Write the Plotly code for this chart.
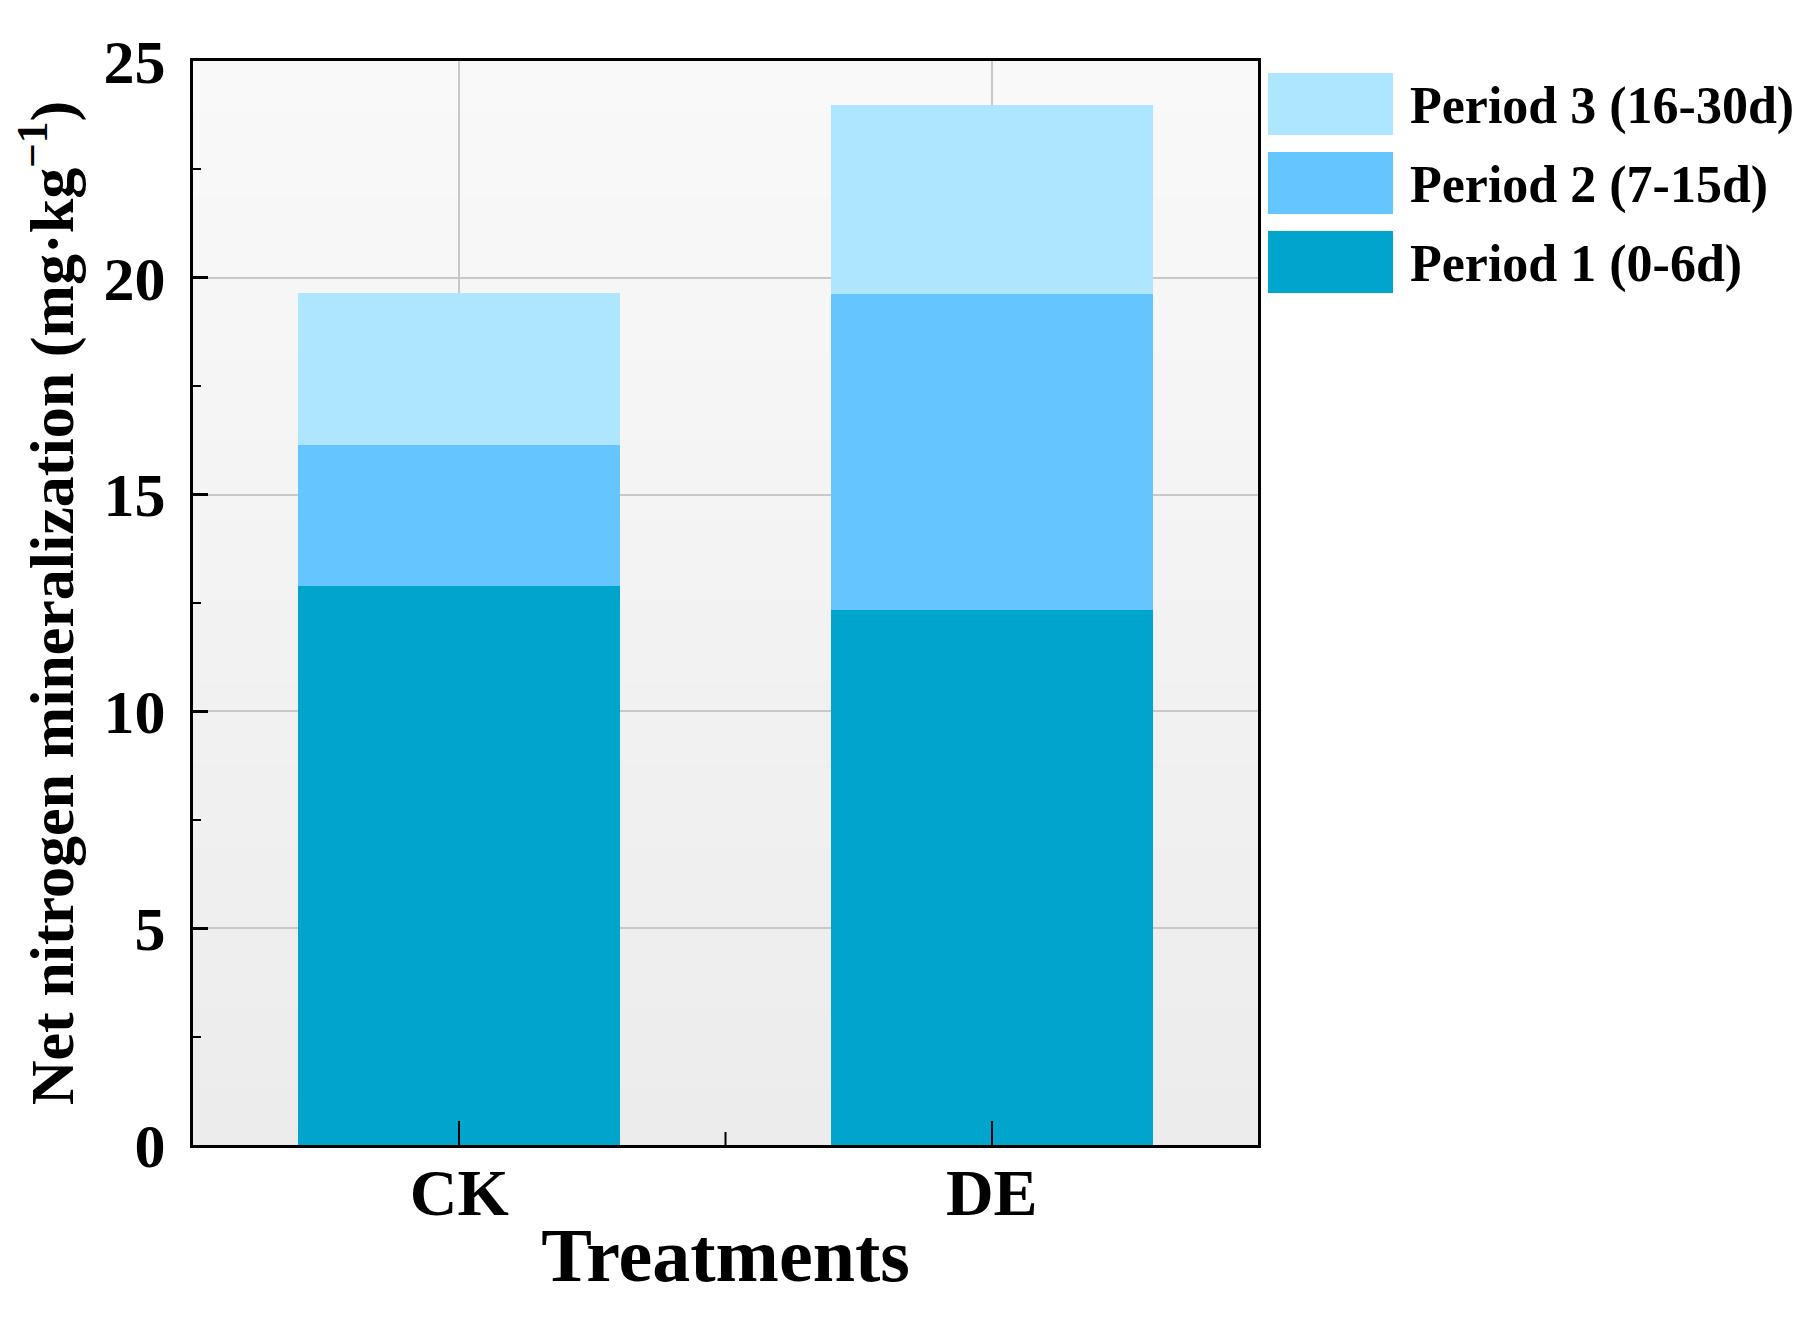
import plotly.graph_objects as go

categories = ["CK", "DE"]
period1 = [12.9, 12.35]
period2 = [3.25, 7.27]
period3 = [3.5, 4.36]
series_names = ["Period 1 (0-6d)", "Period 2 (7-15d)", "Period 3 (16-30d)"]
series_colors = ["#00A5CD", "#64C5FF", "#AEE6FF"]
y_ticks = [0, 5, 10, 15, 20, 25]

W, H = 1817, 1322
L, R, T, B = 185, 1250, 53, 1137
FONT = "Liberation Serif"


def px_x(px):
    return (px - L) / (R - L)


def px_y(py):
    return (B - py) / (B - T)


fig = go.Figure()
for name, vals, col in zip(series_names, [period1, period2, period3], series_colors):
    fig.add_trace(go.Bar(x=categories, y=vals, name=name, marker=dict(color=col, line=dict(width=0)),
                         width=0.605, showlegend=False))

shapes = []
# background gradient (decorative), drawn below gridlines
n = 40
top = (249, 249, 249)
bot = (236, 236, 236)
for i in range(n):
    t = (i + 0.5) / n
    c = tuple(int(round(top[k] + (bot[k] - top[k]) * t)) for k in range(3))
    shapes.append(dict(type="rect", xref="x domain", yref="y domain", x0=0, x1=1,
                       y0=1 - (i + 1) / n, y1=1 - i / n + 0.001, layer="below",
                       line=dict(width=0), fillcolor="rgb(%d,%d,%d)" % c))
# minor x tick between categories
shapes.append(dict(type="line", xref="x", yref="y domain", x0=0.5, x1=0.5, y0=0, y1=0.012,
                   line=dict(color="black", width=2), layer="above"))

# custom legend
legend_items = [(series_names[2], series_colors[2], 65),
                (series_names[1], series_colors[1], 144),
                (series_names[0], series_colors[0], 223)]
annotations = []
for name, col, ytop in legend_items:
    shapes.append(dict(type="rect", xref="paper", yref="paper",
                       x0=px_x(1260), x1=px_x(1385), y0=px_y(ytop + 62), y1=px_y(ytop),
                       line=dict(width=0), fillcolor=col))
    annotations.append(dict(xref="paper", yref="paper", x=px_x(1400), y=px_y(ytop + 33),
                            text=name, showarrow=False, xanchor="left", yanchor="middle",
                            font=dict(family=FONT, size=52, color="black", weight="bold")))

fig.update_layout(
    width=W, height=H,
    margin=dict(l=L, r=W - R, t=T, b=H - B, pad=0),
    barmode="stack",
    paper_bgcolor="white",
    plot_bgcolor="#f2f2f2",
    font=dict(family=FONT, color="black"),
    shapes=shapes,
    annotations=annotations,
    xaxis=dict(
        type="category",
        range=[-0.5, 1.5],
        showline=True, linecolor="black", linewidth=3, mirror=True,
        ticks="inside", ticklen=24, tickwidth=2, tickcolor="black",
        showgrid=True, gridcolor="#c8c8c8", gridwidth=2,
        tickfont=dict(family=FONT, size=66, color="black", weight="bold"),
        ticklabelstandoff=-12,
        title=dict(text="Treatments", font=dict(family=FONT, size=76, color="black", weight="bold"), standoff=0),
    ),
    yaxis=dict(
        range=[0, 25],
        tickvals=y_ticks,
        showline=True, linecolor="black", linewidth=3, mirror=True,
        ticks="inside", ticklen=15, tickwidth=3, tickcolor="black",
        minor=dict(ticks="inside", ticklen=8, tickwidth=2, tickcolor="black", dtick=2.5, showgrid=False),
        showgrid=True, gridcolor="#c8c8c8", gridwidth=2,
        zeroline=False,
        tickfont=dict(family=FONT, size=62, color="black", weight="bold"),
        ticklabelstandoff=12,
        title=dict(text="Net nitrogen mineralization (mg·kg<sup>−1</sup>)",
                   font=dict(family=FONT, size=62, color="black", weight="bold"), standoff=14),
    ),
)

fig.write_html("out.html")
